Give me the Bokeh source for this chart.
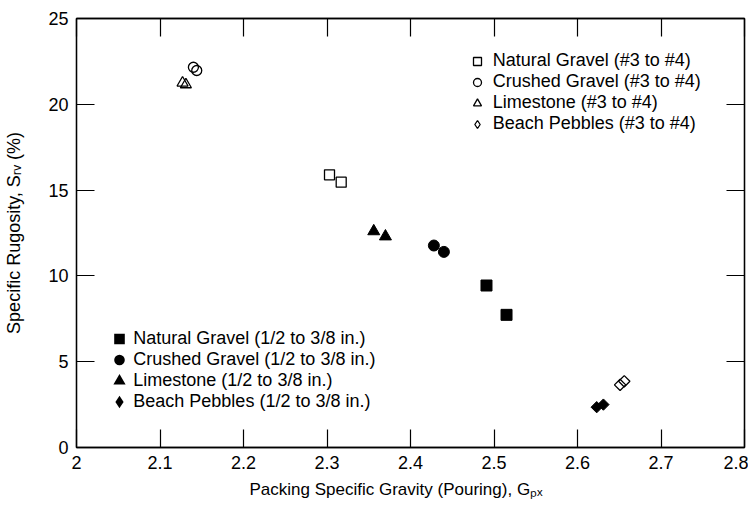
import numpy as np
from bokeh.plotting import figure
from bokeh.models import (Range1d, FixedTicker, LinearAxis, Legend, LegendItem, Title)
from bokeh.embed import file_html
from bokeh.resources import INLINE

# ---------------- data ----------------
x_ticks = [2.0, 2.1, 2.2, 2.3, 2.4, 2.5, 2.6, 2.7, 2.8]
x_tick_labels = ["2", "2.1", "2.2", "2.3", "2.4", "2.5", "2.6", "2.7", "2.8"]
y_ticks = [0, 5, 10, 15, 20, 25]
y_tick_labels = ["0", "5", "10", "15", "20", "25"]

# (#3 to #4) - open markers
ng_small_x = [2.303, 2.317]
ng_small_y = [15.89, 15.46]
cg_small_x = [2.140, 2.144]
cg_small_y = [22.16, 21.97]
ls_small_x = [2.127, 2.131]
ls_small_y = [21.25, 21.15]
bp_small_x = [2.651, 2.656]
bp_small_y = [3.65, 3.86]

# (1/2 to 3/8 in.) - filled markers
ng_large_x = [2.491, 2.515]
ng_large_y = [9.44, 7.73]
cg_large_x = [2.428, 2.440]
cg_large_y = [11.77, 11.40]
ls_large_x = [2.356, 2.370]
ls_large_y = [12.60, 12.30]
bp_large_x = [2.623, 2.631]
bp_large_y = [2.35, 2.50]

names_small = ["Natural Gravel (#3 to #4)", "Crushed Gravel (#3 to #4)",
               "Limestone (#3 to #4)", "Beach Pebbles (#3 to #4)"]
names_large = ["Natural Gravel (1/2 to 3/8 in.)", "Crushed Gravel (1/2 to 3/8 in.)",
               "Limestone (1/2 to 3/8 in.)", "Beach Pebbles (1/2 to 3/8 in.)"]

x_title = "Packing Specific Gravity (Pouring), G\u209a\u2093"
y_title = "Specific Rugosity, S\u1d63\u1d65 (%)"

FONT = "Liberation Sans"
FS = "18px"

p = figure(frame_width=668, frame_height=429,
           min_border_left=76, min_border_right=4, min_border_top=18, min_border_bottom=53,
           x_range=Range1d(2.0, 2.8), y_range=Range1d(0, 25),
           output_backend="svg", toolbar_location=None,
           background_fill_color="white", border_fill_color="white")
p.grid.visible = False
p.outline_line_color = "black"
p.outline_line_width = 1.3


def style_axis(ax, labels=True):
    ax.axis_line_color = "black"
    ax.axis_line_width = 1.3
    ax.major_tick_in = 18
    ax.major_tick_out = 0
    ax.major_tick_line_color = "black"
    ax.major_tick_line_width = 1.2
    ax.minor_tick_in = 0
    ax.minor_tick_out = 0
    ax.major_label_text_font = FONT
    if labels:
        ax.major_label_text_color = "black"
        ax.major_label_text_font_size = FS
        ax.major_label_standoff = 8
    else:
        ax.major_label_text_color = None
        ax.major_label_text_font_size = "1px"
        ax.major_label_standoff = 0


p.xaxis.ticker = FixedTicker(ticks=x_ticks)
p.yaxis.ticker = FixedTicker(ticks=y_ticks)
p.xaxis.major_label_overrides = dict(zip(x_ticks, x_tick_labels))
p.yaxis.major_label_overrides = dict(zip(y_ticks, y_tick_labels))
for ax in p.xaxis + p.yaxis:
    style_axis(ax)

# y axis title as the axis label
p.yaxis.axis_label = y_title
p.yaxis.axis_label_text_font = FONT
p.yaxis.axis_label_text_font_size = "18px"
p.yaxis.axis_label_text_font_style = "normal"
p.yaxis.axis_label_text_color = "black"
p.yaxis.axis_label_standoff = 21

top = LinearAxis(ticker=FixedTicker(ticks=x_ticks))
right = LinearAxis(ticker=FixedTicker(ticks=y_ticks))
style_axis(top, labels=False)
style_axis(right, labels=False)
p.add_layout(top, "above")
p.add_layout(right, "right")

# x axis title (left-aligned with an offset so it sits where the original does)
p.add_layout(Title(text=x_title, align="left", offset=173, standoff=12,
                   text_font=FONT, text_font_size="17px", text_font_style="normal",
                   text_color="black"), "below")

LW = 1.3
open_specs = [("square", 10, 0.0), ("circle", 10, 0.0), ("triangle", 11, 0.0),
              ("square", 8, np.pi / 4)]
filled_specs = [("square", 11, 0.0), ("circle", 11, 0.0), ("triangle", 12, 0.0),
                ("square", 8, np.pi / 4)]
legend_markers = ["square", "circle", "triangle", "diamond"]

small_xy = [(ng_small_x, ng_small_y), (cg_small_x, cg_small_y),
            (ls_small_x, ls_small_y), (bp_small_x, bp_small_y)]
large_xy = [(ng_large_x, ng_large_y), (cg_large_x, cg_large_y),
            (ls_large_x, ls_large_y), (bp_large_x, bp_large_y)]

proxies_small = []
for (xs, ys), (mk, sz, ang), lmk in zip(small_xy, open_specs, legend_markers):
    p.scatter(xs, ys, marker=mk, size=sz, angle=ang, fill_color=None,
              line_color="black", line_width=LW)
    pr = p.scatter(xs, ys, marker=lmk, size=sz, fill_color=None,
                   line_color="black", line_width=LW)
    pr.visible = False
    proxies_small.append(pr)

proxies_large = []
for (xs, ys), (mk, sz, ang), lmk in zip(large_xy, filled_specs, legend_markers):
    p.scatter(xs, ys, marker=mk, size=sz, angle=ang, fill_color="black",
              line_color="black", line_width=1)
    pr = p.scatter(xs, ys, marker=lmk, size=sz, fill_color="black",
                   line_color="black", line_width=2.2, line_join="miter")
    pr.visible = False
    proxies_large.append(pr)


def make_legend(names, renderers, loc, gh, spacing, standoff):
    return Legend(items=[LegendItem(label=n, renderers=[r]) for n, r in zip(names, renderers)],
                  location=loc, orientation="vertical",
                  label_text_font=FONT, label_text_font_size=FS, label_text_color="black",
                  glyph_width=22, glyph_height=gh, label_height=gh,
                  label_standoff=standoff, spacing=spacing, padding=0, margin=0,
                  border_line_color=None, background_fill_alpha=0,
                  inactive_fill_alpha=0)


leg_top = make_legend(names_small, proxies_small, (389.7, 312.9), 20, 0, 5)
leg_bot = make_legend(names_large, proxies_large, (32.3, 34.8), 21, 0, 3)
p.add_layout(leg_top, "center")
p.add_layout(leg_bot, "center")

open("out.html", "w").write(file_html(p, INLINE))
